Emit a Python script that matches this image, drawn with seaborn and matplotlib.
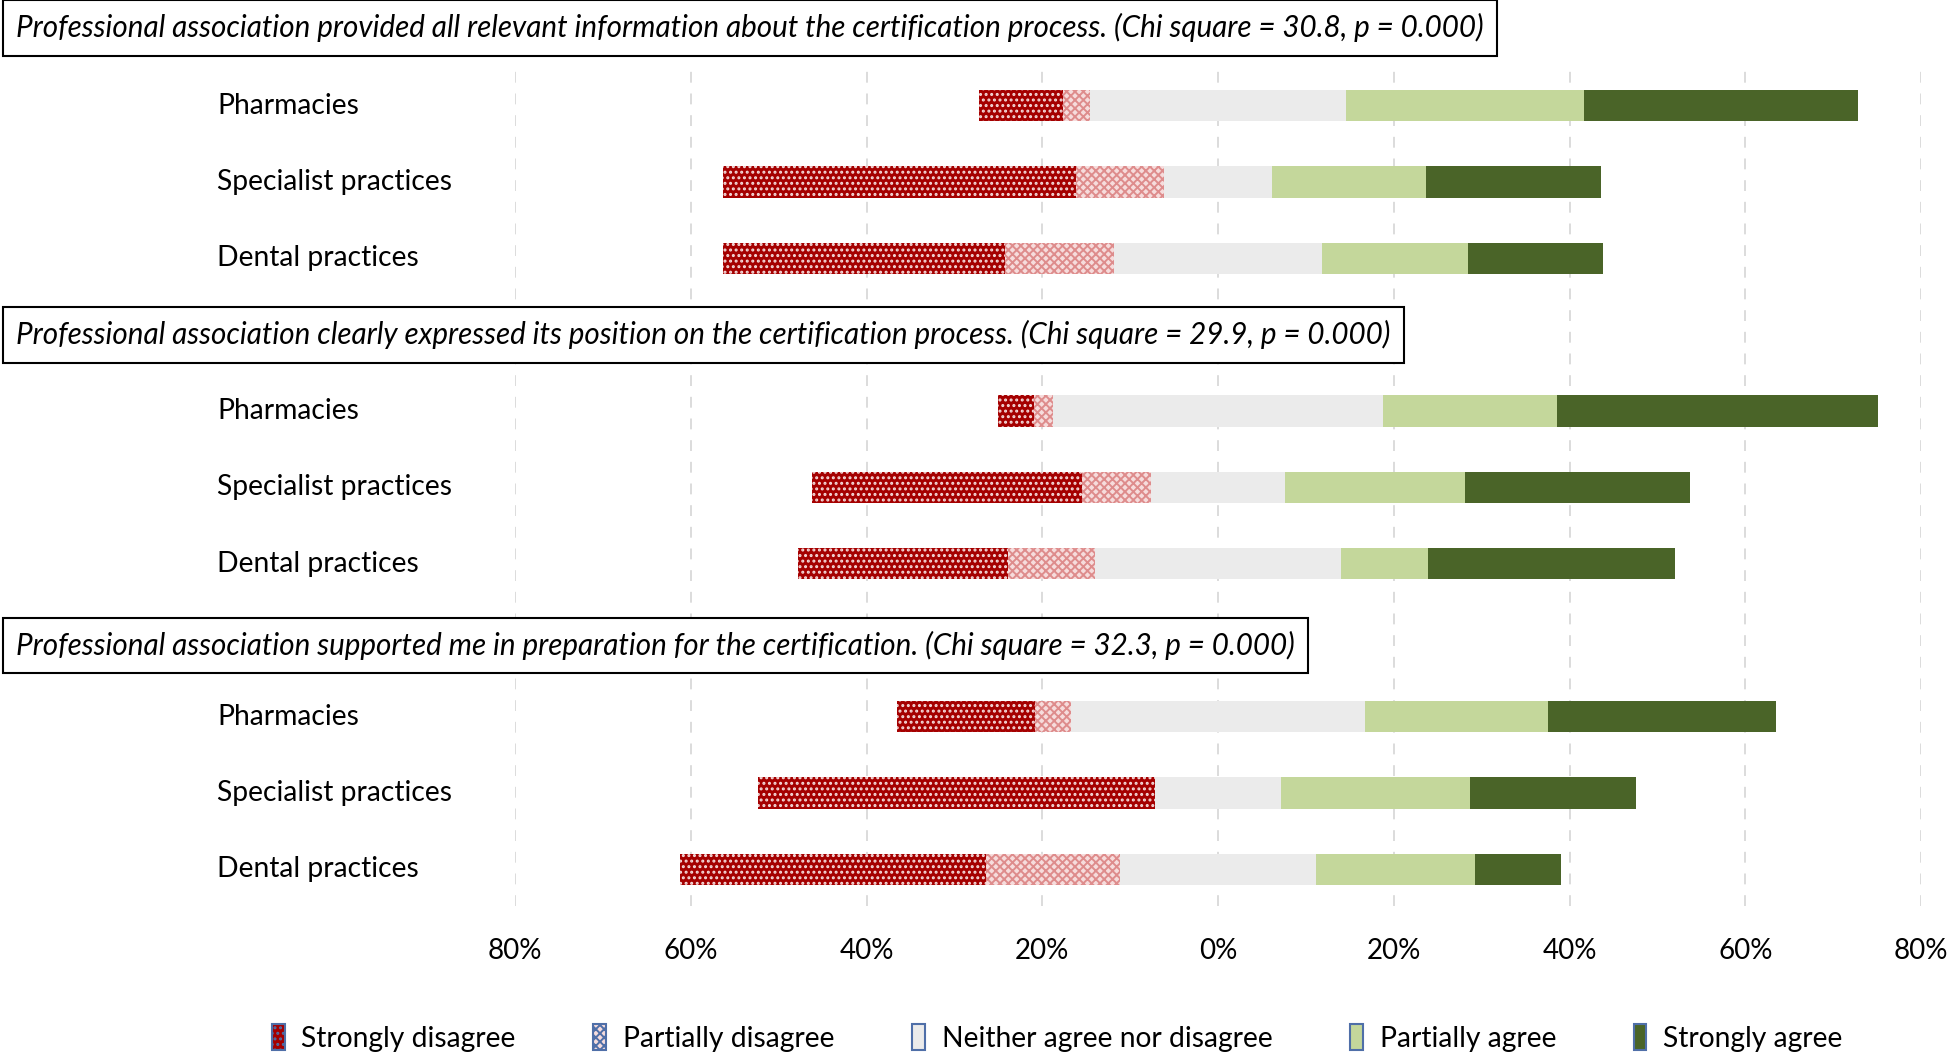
import pandas as pd
import numpy as np
import seaborn as sns
import matplotlib.pyplot as plt
from matplotlib.patches import Patch
from matplotlib.transforms import blended_transform_factory

# Survey answers in percent, one row per group (3 statements x 3 practice types)
questions = [
    'Professional association provided all relevant information about the certification process. (Chi square = 30.8, p = 0.000)',
    'Professional association clearly expressed its position on the certification process. (Chi square = 29.9, p = 0.000)',
    'Professional association supported me in preparation for the certification. (Chi square = 32.3, p = 0.000)',
]
groups = ['Pharmacies', 'Specialist practices', 'Dental practices']
categories = ['Strongly disagree', 'Partially disagree', 'Neither agree nor disagree',
              'Partially agree', 'Strongly agree']

strongly_disagree = [9.5, 40.1, 32.1, 4.1, 30.8, 23.9, 15.7, 45.2, 34.8]
partially_disagree = [3.1, 10.0, 12.4, 2.1, 7.8, 9.9, 4.1, 0.0, 15.3]
neutral = [29.1, 12.4, 23.6, 37.6, 15.3, 28.1, 33.5, 14.3, 22.2]
partially_agree = [27.1, 17.5, 16.7, 19.8, 20.5, 9.9, 20.8, 21.5, 18.1]
strongly_agree = [31.2, 19.9, 15.3, 36.5, 25.6, 28.1, 26.0, 18.9, 9.8]

# row positions: a blank slot above each block is left for the boxed question
positions = [0, 1, 2, 4, 5, 6, 8, 9, 10]
question_pos = [-1.02, 3, 7.07]

sd = np.array(strongly_disagree)
pd_ = np.array(partially_disagree)
nt = np.array(neutral)
pa = np.array(partially_agree)
sa = np.array(strongly_agree)

# cumulative ends of the diverging bars (neutral centered on 0)
ends = {
    'Strongly disagree': -(nt / 2 + pd_ + sd),
    'Partially disagree': -(nt / 2 + pd_),
    'Neither agree nor disagree_l': -(nt / 2),
    'Neither agree nor disagree_r': nt / 2,
    'Partially agree': nt / 2 + pa,
    'Strongly agree': nt / 2 + pa + sa,
}

styles = {
    'Strongly disagree': dict(color='#A50000', hatch='...', edgecolor='#F4DADA'),
    'Partially disagree': dict(color='#F6DCDC', hatch='xxxx', edgecolor='#DE8C8C'),
    'Neither agree nor disagree': dict(color='#EBEBEB', hatch=None, edgecolor='#EBEBEB'),
    'Partially agree': dict(color='#C4D79B', hatch=None, edgecolor='#C4D79B'),
    'Strongly agree': dict(color='#4A6428', hatch=None, edgecolor='#4A6428'),
}

plt.rcParams['font.family'] = ['Lato', 'DejaVu Sans']
plt.rcParams['hatch.linewidth'] = 1.4

fig = plt.figure(figsize=(19.47, 10.56), dpi=100)
ax = fig.add_axes([515 / 1947, 1 - 906 / 1056, (1921 - 515) / 1947, (906 - 62) / 1056])

# draw larger segments first, smaller ones overlap on top
order = ['Strongly disagree', 'Partially disagree', 'Neither agree nor disagree_l',
         'Strongly agree', 'Partially agree', 'Neither agree nor disagree_r']
for key in order:
    name = key.replace('_l', '').replace('_r', '')
    st = styles[name]
    df = pd.DataFrame({'pos': positions, 'value': ends[key]})
    sns.barplot(data=df, x='value', y='pos', orient='h', native_scale=True,
                width=0.41, color=st['color'], saturation=1, errorbar=None,
                hatch=st['hatch'], edgecolor=st['edgecolor'], linewidth=0, ax=ax, zorder=3)

ax.set_xlim(-80, 80)
ax.set_ylim(10.48, -0.57)
ticks = np.arange(-80, 81, 20)
ax.set_xticks(ticks)
ax.set_xticklabels([f'{abs(t)}%' for t in ticks], fontsize=20)
ax.tick_params(axis='x', length=0, pad=23)
ax.set_yticks([])
ax.set_xlabel('')
ax.set_ylabel('')
for s in ax.spines.values():
    s.set_visible(False)
ax.grid(False)
for t in ticks:
    ax.axvline(t, color='#D9D9D9', linestyle=(0, (6, 6)), linewidth=1.3, zorder=0)

trans = blended_transform_factory(fig.transFigure, ax.transData)

# row labels
for p, name in zip(positions, groups * 3):
    ax.text(217 / 1947, p, name, transform=trans, fontsize=20.3, va='center', ha='left')

# boxed questions
for p, q in zip(question_pos, questions):
    ax.text(16 / 1947, p, q, transform=trans, fontsize=21.3, style='italic',
            va='center', ha='left', clip_on=False, zorder=5,
            bbox=dict(boxstyle='square,pad=0.45', facecolor='white', edgecolor='black', linewidth=1.5))

handles = [Patch(facecolor=styles[c]['color'], hatch=styles[c]['hatch'],
                 edgecolor='#4F6FA8', linewidth=1.5) for c in categories]
leg = fig.legend(handles, categories, loc='center', bbox_to_anchor=(0.543, 1 - 1038 / 1056),
                 ncol=5, frameon=False, fontsize=20.3, handlelength=0.45, handleheight=1.0,
                 handletextpad=0.6, columnspacing=2.75)

fig.savefig('out.png', dpi=100)
